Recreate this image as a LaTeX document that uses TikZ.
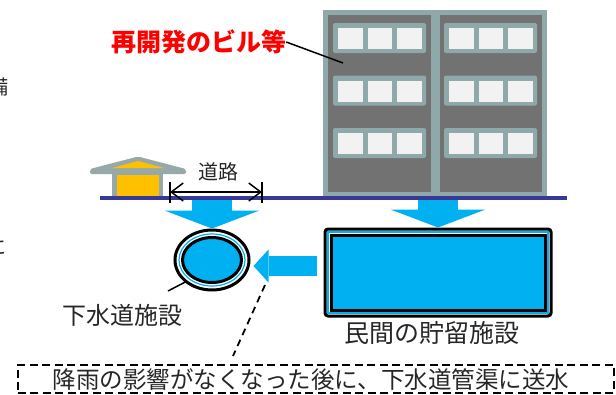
\documentclass[tikz,border=0pt]{standalone}
\usepackage{fontspec}
\setmainfont{Noto Sans CJK JP}
\usetikzlibrary{arrows.meta, shapes.geometric, positioning}
\definecolor{flowblue}{HTML}{00B0F0}
\definecolor{roadblue}{HTML}{3A3896}
\definecolor{frame}{HTML}{8FA9AA}
\definecolor{wall}{HTML}{727272}
\definecolor{pane}{HTML}{F2F2F2}
\definecolor{roofgray}{HTML}{97A8A9}
\definecolor{houseyel}{HTML}{FFC000}

\begin{document}
\begin{tikzpicture}[x=1pt, y=-1pt,
  flow/.style={draw=flowblue, line width=40pt, -{Triangle[width=95pt,length=18pt,line width=0pt]}},
  sideflow/.style={draw=flowblue, line width=20pt, -{Triangle[width=33pt,length=15pt,line width=0pt]}},
  lbl/.style={font=\fontsize{24}{28}\selectfont, text=black!85, inner sep=0pt},
  dimline/.style={line width=1.5pt, {Straight Barb[length=12pt,width=18pt]}-{Straight Barb[length=12pt,width=18pt]}},
  leader/.style={line width=1.5pt}]
\useasboundingbox (0,0) rectangle (616,394);

% cut-off text at the left edge
\node[lbl, font=\fontsize{20}{24}\selectfont] (cutA) at (-2,87) {備};
\node[lbl, font=\fontsize{20}{24}\selectfont] (cutB) at (-3,247) {に};

% building
\node[fill=frame, minimum width=224pt, minimum height=187pt, inner sep=0pt, anchor=north west] (bldg) at (323,10) {};
\fill[wall] ([shift={(5,5)}]bldg.north west) rectangle ([shift={(108,-5)}]bldg.south west);
\fill[wall] ([shift={(-107,5)}]bldg.north east) rectangle ([shift={(-5,-5)}]bldg.south east);
\foreach \y in {23,75.5,128}
  \foreach \x in {333,444} {
    \fill[frame, rounded corners=2pt] (\x,\y) rectangle ++(93,30);
    \foreach \i in {0,1,2}
      \fill[pane] (\x+5+29.5*\i,\y+5) rectangle ++(24.5,21);
  }
\node[font=\fontsize{25}{28}\selectfont\bfseries, text=red, inner sep=0pt] (redev) at (198.5,42) {再開発のビル等};
\coordinate (redevTag) at (343,63);
\draw[leader] (redev.east) -- (redevTag);

% house
\fill[roofgray, rounded corners=2pt] (90,174) -- (90,169) -- (138,156.5) -- (186,169) -- (186,174) -- cycle;
\fill[houseyel] (112,168) -- (138,161) -- (164,168) -- cycle;
\fill[roofgray] (112,173) rectangle (163,197);
\fill[houseyel] (116.5,175) rectangle (158.5,197);

% sewer pipe and storage tank
\node[ellipse, draw, line width=3pt, fill=white, minimum width=74pt, minimum height=60pt, inner sep=0pt] (sewer) at (212,260) {};
\draw[flowblue, line width=1.2pt] (sewer.center) ellipse (33 and 26);
\draw[line width=3pt, fill=flowblue] (sewer.center) ellipse (29.5 and 22.5);
\node[draw, line width=3pt, fill=white, rounded corners=3pt, minimum width=226pt, minimum height=87pt, inner sep=0pt] (tank) at (438,272.5) {};
\draw[flowblue, line width=1.2pt] ([shift={(4.5,4.5)}]tank.north west) rectangle ([shift={(-4.5,-4.5)}]tank.south east);
\draw[line width=3pt, fill=flowblue] ([shift={(7.5,7.5)}]tank.north west) rectangle ([shift={(-7.5,-7.5)}]tank.south east);

% flows
\coordinate (roadL) at (212,200);
\coordinate (roadR) at (438,200);
\coordinate (tankW) at (317,266);
\draw[flow] (roadL) -- (sewer.north);
\draw[flow] (roadR) -- (tank.north);
\draw[sideflow, shorten >=3pt] (tankW) -- (tankW -| sewer.east);

% road
\coordinate (roadA) at (100,198);
\coordinate (roadB) at (567,198);
\draw[roadblue, line width=4pt] (roadA) -- (roadB);
\coordinate (dimL) at (170,192);
\coordinate (dimR) at (262,192);
\draw[dimline] (dimL) -- (dimR);
\draw[leader] (dimL) ++(0,-10) -- ++(0,21);
\draw[leader] (dimR) ++(0,-10) -- ++(0,21);
\node[lbl, font=\fontsize{20}{24}\selectfont] (road) at (218,172) {道路};

% labels
\node[lbl] (sewerlbl) at (122,315) {下水道施設};
\coordinate (sewerTag) at (168,291);
\draw[leader] (sewer.south west) -- (sewerTag);
\node[lbl, font=\fontsize{25}{28}\selectfont] (tanklbl) at (432,333) {民間の貯留施設};

% note
\node[draw, line width=1.8pt, dash pattern=on 8pt off 4.5pt, minimum width=596pt, minimum height=28pt, inner sep=0pt, anchor=north west] (notebox) at (17,364) {};
\node[lbl, font=\fontsize{23.5}{28}\selectfont] (note) at (311,380) {降雨の影響がなくなった後に、下水道管渠に送水};
\coordinate (noteA) at (265,285);
\coordinate (noteB) at (233,356);
\draw[line width=1.8pt, dash pattern=on 7pt off 5pt] (noteA) -- (noteB);
\end{tikzpicture}
\end{document}
